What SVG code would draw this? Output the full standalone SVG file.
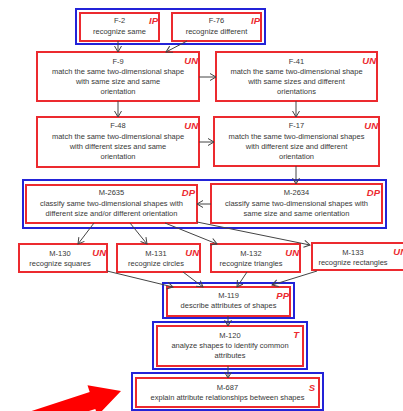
<svg xmlns="http://www.w3.org/2000/svg" width="403" height="411" viewBox="0 0 403 411">
<style>
.r{fill:#fff;stroke:#ec2a2f;stroke-width:2}
.b{fill:none;stroke:#2323d8;stroke-width:2}
.t{font-family:"Liberation Sans",Arial,sans-serif;font-size:7.5px;fill:#383838;text-anchor:middle}
.g{font-family:"Liberation Sans",Arial,sans-serif;font-size:9.5px;font-weight:bold;font-style:italic;fill:#ec2a2f;text-anchor:end}
.c line{stroke:#444;stroke-width:1;marker-end:url(#ah)}
</style>
<defs>
<marker id="ah" markerUnits="userSpaceOnUse" markerWidth="10" markerHeight="10" refX="7" refY="4" orient="auto">
<path d="M1,0.5 L7,4 L1,7.5" fill="none" stroke="#444" stroke-width="1"/>
</marker>
</defs>
<rect width="403" height="411" fill="#fff"/>

<g id="containers">
<rect class="b" x="76" y="9" width="189" height="35"/>
<rect class="b" x="23" y="180" width="363" height="48"/>
<rect class="b" x="163" y="283" width="131" height="35"/>
<rect class="b" x="153" y="322" width="154" height="47"/>
<rect class="b" x="132" y="373" width="191" height="37"/>
</g>

<g id="F-2"><rect class="r" x="80" y="13" width="79" height="28"/>
<text class="t" x="119.5" y="23">F-2</text><text class="t" x="119.5" y="33.5">recognize same</text><text class="g" x="158" y="24">IP</text></g>

<g id="F-76"><rect class="r" x="172" y="13" width="89" height="28"/>
<text class="t" x="216.5" y="23">F-76</text><text class="t" x="216.5" y="33.5">recognize different</text><text class="g" x="260" y="24">IP</text></g>

<g id="F-9"><rect class="r" x="37" y="52" width="162" height="49"/>
<text class="t" x="118" y="63.5">F-9</text><text class="t" x="118" y="74">match the same two-dimensional shape</text><text class="t" x="118" y="84">with same size and same</text><text class="t" x="118" y="94">orientation</text><text class="g" x="198" y="64">UN</text></g>

<g id="F-41"><rect class="r" x="216" y="52" width="161" height="49"/>
<text class="t" x="296.5" y="63.5">F-41</text><text class="t" x="296.5" y="74">match the same two-dimensional shape</text><text class="t" x="296.5" y="84">with same sizes and different</text><text class="t" x="296.5" y="94">orientations</text><text class="g" x="376" y="64">UN</text></g>

<g id="F-48"><rect class="r" x="37" y="117" width="162" height="50"/>
<text class="t" x="118" y="128">F-48</text><text class="t" x="118" y="138.5">match the same two-dimensional shape</text><text class="t" x="118" y="148.5">with different sizes and same</text><text class="t" x="118" y="158.5">orientation</text><text class="g" x="198" y="128.5">UN</text></g>

<g id="F-17"><rect class="r" x="214" y="117" width="165" height="49"/>
<text class="t" x="296.5" y="128">F-17</text><text class="t" x="296.5" y="138.5">match the same two-dimensional shapes</text><text class="t" x="296.5" y="148.5">with different size and different</text><text class="t" x="296.5" y="158.5">orientation</text><text class="g" x="378" y="128.5">UN</text></g>

<g id="M-2635"><rect class="r" x="26" y="185" width="171" height="38"/>
<text class="t" x="111.5" y="195">M-2635</text><text class="t" x="111.5" y="206">classify same two-dimensional shapes with</text><text class="t" x="111.5" y="216">different size and/or different orientation</text><text class="g" x="195" y="196">DP</text></g>

<g id="M-2634"><rect class="r" x="211" y="184" width="171" height="39"/>
<text class="t" x="296.5" y="194.5">M-2634</text><text class="t" x="296.5" y="205.5">classify same two-dimensional shapes with</text><text class="t" x="296.5" y="215.5">same size and same orientation</text><text class="g" x="380" y="195.5">DP</text></g>

<g id="M-130"><rect class="r" x="19" y="244" width="88" height="28"/>
<text class="t" x="60" y="255.5">M-130</text><text class="t" x="60" y="265.5">recognize squares</text><text class="g" x="106" y="255.5">UN</text></g>

<g id="M-131"><rect class="r" x="117" y="244" width="83" height="28"/>
<text class="t" x="156" y="255.5">M-131</text><text class="t" x="156" y="265.5">recognize circles</text><text class="g" x="199" y="255.5">UN</text></g>

<g id="M-132"><rect class="r" x="211" y="244" width="89" height="28"/>
<text class="t" x="251" y="255.5">M-132</text><text class="t" x="251" y="265.5">recognize triangles</text><text class="g" x="299" y="255.5">UN</text></g>

<g id="M-133"><rect class="r" x="312" y="243" width="96" height="27"/>
<text class="t" x="353" y="254.5">M-133</text><text class="t" x="353" y="264.5">recognize rectangles</text><text class="g" x="407" y="254.5">UN</text></g>

<g id="M-119"><rect class="r" x="167" y="287" width="123" height="29"/>
<text class="t" x="228.5" y="298">M-119</text><text class="t" x="228.5" y="308">describe attributes of shapes</text><text class="g" x="289" y="298.5">PP</text></g>

<g id="M-120"><rect class="r" x="157" y="326" width="146" height="40"/>
<text class="t" x="230" y="337.5">M-120</text><text class="t" x="230" y="347.5">analyze shapes to identify common</text><text class="t" x="230" y="357.5">attributes</text><text class="g" x="299" y="338">T</text></g>

<g id="M-687"><rect class="r" x="136" y="378" width="183" height="29"/>
<text class="t" x="227.5" y="390">M-687</text><text class="t" x="227.5" y="400">explain attribute relationships between shapes</text><text class="g" x="315" y="390.5">S</text></g>

<g id="connectors" class="c">
<line x1="118" y1="41" x2="118" y2="52"/>
<line x1="187" y1="41" x2="166" y2="52"/>
<line x1="199" y1="77" x2="216" y2="77"/>
<line x1="118" y1="101" x2="118" y2="117"/>
<line x1="296" y1="101" x2="296" y2="117"/>
<line x1="199" y1="142" x2="214" y2="142"/>
<line x1="296" y1="166" x2="296" y2="184"/>
<line x1="211" y1="204" x2="197" y2="204"/>
<line x1="94" y1="223" x2="78" y2="244"/>
<line x1="130" y1="223" x2="147" y2="244"/>
<line x1="165" y1="223" x2="217" y2="244"/>
<line x1="197" y1="222" x2="310" y2="245"/>
<line x1="107" y1="271" x2="173" y2="287"/>
<line x1="183" y1="272" x2="203" y2="287"/>
<line x1="247" y1="272" x2="237" y2="287"/>
<line x1="317" y1="271" x2="272" y2="285"/>
<line x1="228" y1="316" x2="228" y2="326"/>
<line x1="228" y1="366" x2="228" y2="378"/>
</g>

<polygon id="pointer" points="121,391 87.5,385.2 89.7,391.9 13.7,416.9 19.3,433.9 95.3,408.9 97.5,415.6" fill="#ff0000"/>
</svg>
